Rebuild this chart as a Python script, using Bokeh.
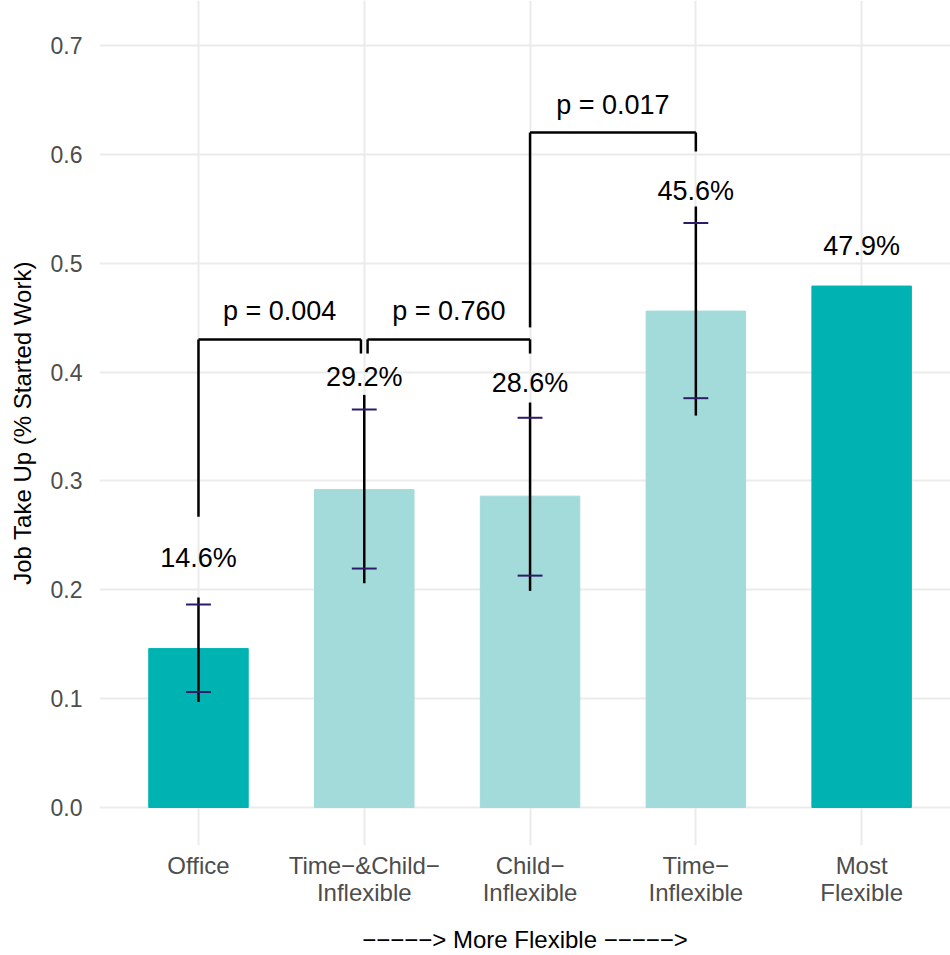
import math

from bokeh.core.properties import value
from bokeh.embed import file_html
from bokeh.models import ColumnDataSource, FixedTicker, Range1d, CustomJSTickFormatter
from bokeh.plotting import figure
from bokeh.resources import INLINE

# ---- data -------------------------------------------------------------
categories = ["Office", "Time\u2212&Child\u2212\nInflexible", "Child\u2212\nInflexible",
              "Time\u2212\nInflexible", "Most\nFlexible"]
take_up = [0.146, 0.292, 0.286, 0.456, 0.479]
ci95_low = [0.097, 0.206, 0.199, 0.360, math.nan]
ci95_high = [0.193, 0.379, 0.372, 0.552, math.nan]
ci90_low = [0.106, 0.2195, 0.213, 0.376, math.nan]
ci90_high = [0.1865, 0.3656, 0.358, 0.537, math.nan]
value_labels = ["14.6%", "29.2%", "28.6%", "45.6%", "47.9%"]

# pairwise comparisons (bracket ends given in category positions)
cmp_from = [1.0, 2.02, 3.0]
cmp_to = [1.98, 3.0, 4.0]
cmp_height = [0.430, 0.430, 0.620]
cmp_tip_from = [0.267, 0.417, 0.441]
cmp_tip_to = [0.417, 0.417, 0.6026]
cmp_labels = ["p = 0.004", "p = 0.760", "p = 0.017"]

y_ticks = [0.0, 0.1, 0.2, 0.3, 0.4, 0.5, 0.6, 0.7]

# ---- styling -----------------------------------------------------------
FONT = "Liberation Sans"
DARK = "#00B3B3"
LIGHT = "#A2DBD9"
highlighted = {"Office", "Most\nFlexible"}

xs = list(range(1, len(categories) + 1))
bar_colors = [DARK if c in highlighted else LIGHT for c in categories]

p = figure(width=950, height=955, output_backend="svg", toolbar_location=None,
           x_range=Range1d(0.403, 5.536), y_range=Range1d(-0.0349, 0.7413),
           min_border_left=99, min_border_right=0, min_border_top=0,
           min_border_bottom=110)
p.outline_line_color = None
p.background_fill_color = "white"
p.border_fill_color = "white"

# grid
for g in (p.xgrid, p.ygrid):
    g.grid_line_color = "#EBEBEB"
    g.grid_line_width = 2
p.ygrid.ticker = FixedTicker(ticks=y_ticks)
p.xgrid.ticker = FixedTicker(ticks=xs)

# bars
bars = ColumnDataSource(dict(x=xs, top=take_up, color=bar_colors))
p.vbar(x="x", top="top", width=0.6, color="color", source=bars)

# confidence intervals: long black whisker + indigo cross ticks
ci = ColumnDataSource(dict(x=xs, lo95=ci95_low, hi95=ci95_high,
                           lo90=ci90_low, hi90=ci90_high))
p.segment(x0="x", x1="x", y0="lo95", y1="hi95", line_color="black",
          line_width=2.5, source=ci)
tick_half = 0.075
for key in ("lo90", "hi90"):
    p.segment(x0=[x - tick_half for x in xs], x1=[x + tick_half for x in xs],
              y0=ci.data[key], y1=ci.data[key], line_color="#2D1B69", line_width=2)

# value labels above each bar / interval
tops = [h if not math.isnan(h) else v for h, v in zip(ci95_high, take_up)]
lift_px = [-39, -18, -20, -16, -40]
labels = ColumnDataSource(dict(x=xs, y=tops, text=value_labels, dy=lift_px))
p.text(x="x", y="y", text="text", y_offset="dy", source=labels,
       text_align="center", text_baseline="alphabetic",
       text_font=value(FONT), text_font_size="27px", text_color="black")

# comparison brackets
p.segment(x0=cmp_from, x1=cmp_to, y0=cmp_height, y1=cmp_height,
          line_color="black", line_width=2.5)
p.segment(x0=cmp_from, x1=cmp_from, y0=cmp_height, y1=cmp_tip_from,
          line_color="black", line_width=2.5)
p.segment(x0=cmp_to, x1=cmp_to, y0=cmp_height, y1=cmp_tip_to,
          line_color="black", line_width=2.5)
p.text(x=[(a + b) / 2 for a, b in zip(cmp_from, cmp_to)], y=cmp_height,
       text=cmp_labels, y_offset=-28, text_align="center",
       text_baseline="alphabetic", text_font=value(FONT),
       text_font_size="27px", text_color="black")

# axes
p.yaxis.ticker = FixedTicker(ticks=y_ticks)
p.yaxis.formatter = CustomJSTickFormatter(code="return tick.toFixed(1);")
p.xaxis.ticker = FixedTicker(ticks=xs)
p.xaxis.major_label_overrides = {x: c for x, c in zip(xs, categories)}

for ax in (p.xaxis[0], p.yaxis[0]):
    ax.axis_line_color = None
    ax.major_tick_line_color = None
    ax.minor_tick_line_color = None
    ax.major_label_text_font = FONT
    ax.major_label_text_color = "#4D4D4D"
    ax.axis_label_text_font = FONT
    ax.axis_label_text_font_size = "24px"
    ax.axis_label_text_font_style = "normal"
    ax.axis_label_text_color = "black"

p.yaxis.major_label_text_font_size = "23px"
p.xaxis.major_label_text_font_size = "24px"
p.xaxis.major_label_text_line_height = 1.0

p.yaxis.axis_label = "Job Take Up (% Started Work)"
p.yaxis.major_label_standoff = 11
p.yaxis.axis_label_standoff = 12
p.xaxis.axis_label = "\u2212\u2212\u2212\u2212\u2212> More Flexible \u2212\u2212\u2212\u2212\u2212>"
p.xaxis.major_label_standoff = 0
p.xaxis.axis_label_standoff = 17

open("out.html", "w").write(file_html(p, INLINE))
